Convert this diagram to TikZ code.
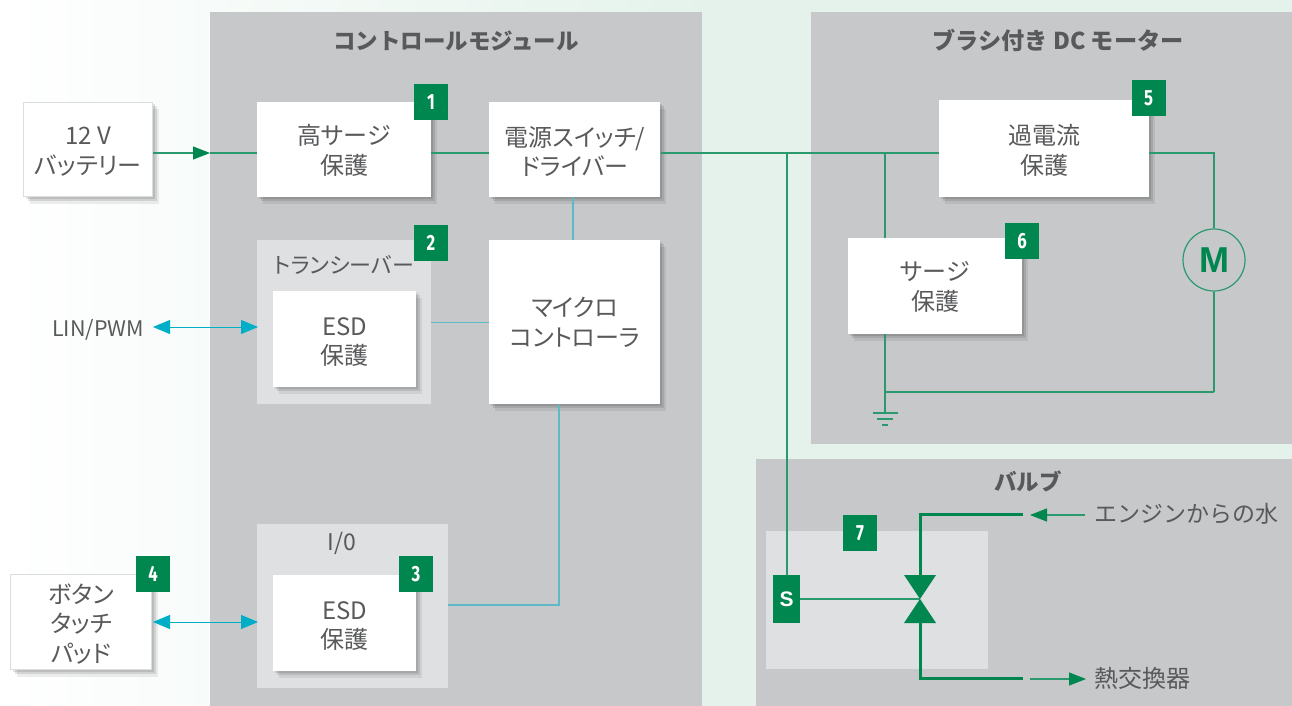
\documentclass[tikz,border=0pt]{standalone}
\usepackage{fontspec}
\setmainfont{Noto Sans CJK JP}
\newfontfamily\kanafont[RawFeature=+palt]{Noto Sans CJK JP}
\newfontfamily\badgefont[FakeStretch=0.76]{Fira Sans}
\newfontfamily\signfont{Liberation Sans}
\usetikzlibrary{positioning, shadows, arrows.meta}

\definecolor{panelgray}{HTML}{C7C8CA}
\definecolor{lightgray}{HTML}{DFE0E2}
\definecolor{textgray}{HTML}{58595B}
\definecolor{edgegray}{HTML}{DCDDDD}
\definecolor{paleback}{HTML}{E4F2EB}
\definecolor{badgegreen}{HTML}{00864F}
\definecolor{linegreen}{HTML}{2A9A6E}
\definecolor{linkteal}{HTML}{5DB8C8}
\definecolor{tipteal}{HTML}{00AEC7}

\newcommand{\lowerline}[2]{\raisebox{-#1pt}[\height][\depth]{#2}}

\tikzset{
  panel/.style={fill=panelgray, anchor=north west, inner sep=0pt},
  group/.style={fill=lightgray, anchor=north west, inner sep=0pt},
  box/.style={fill=white, inner sep=0pt, align=center, text=textgray,
    font=\kanafont\fontsize{24}{29.5}\selectfont,
    drop shadow={shadow xshift=2pt, shadow yshift=-2pt, opacity=.10, fill=black},
    drop shadow={shadow xshift=4pt, shadow yshift=-4pt, opacity=.10, fill=black},
    drop shadow={shadow xshift=6pt, shadow yshift=-7pt, opacity=.07, fill=black}},
  outbox/.style={box, draw=edgegray, line width=1pt},
  badge/.style={fill=badgegreen, text=white, inner sep=0pt, minimum width=34pt,
    minimum height=36pt, font=\badgefont\bfseries\fontsize{22}{22}\selectfont},
  title/.style={text=textgray, inner sep=0pt, font=\bfseries\fontsize{22.5}{26}\selectfont},
  label/.style={text=textgray, inner sep=0pt, font=\fontsize{23}{28}\selectfont},
  power/.style={draw=linegreen, line width=1.2pt},
  signal/.style={draw=linkteal, line width=1.2pt},
  pipe/.style={draw=badgegreen, line width=3pt},
  flow/.style={draw=linegreen, line width=1.2pt, -{Triangle[length=17pt,width=13pt,color=badgegreen]}},
  bus/.style={draw=tipteal, line width=1pt, {Triangle[length=17pt,width=14pt]}-{Triangle[length=17pt,width=14pt]}}
}

\begin{document}
\begin{tikzpicture}[x=1pt,y=-1pt]
    \useasboundingbox (0,0) rectangle (1292,706);
    \shade[left color=white, right color=paleback] (0,0) rectangle (720,706);
    \fill[paleback] (720,0) rectangle (1292,706);

    % panels
    \node[panel, minimum width=492pt, minimum height=694pt] (module) at (210,12) {};
    \node[panel, minimum width=481pt, minimum height=432pt] (motor) at (811,12) {};
    \node[panel, minimum width=536pt, minimum height=247pt] (valvepanel) at (756,459) {};
    \node[group, minimum width=174pt, minimum height=164pt] (trans) at (257,240) {};
    \node[group, minimum width=191pt, minimum height=164pt] (io) at (257,524) {};
    \node[group, minimum width=222pt, minimum height=138pt] (valvegroup) at (766,531) {};

    \node[title] (moduletitle) at (456,41) {コントロールモジュール};
    \node[title, font=\bfseries\fontsize{23.2}{26}\selectfont] (motortitle) at (1058,40) {ブラシ付き DC モーター};
    \node[title] (valvetitle) at (1028,481) {バルブ};
    \node[label, font=\kanafont\fontsize{22}{28}\selectfont] (translabel) at (344,265) {トランシーバー};
    \node[label] (iolabel) at (342,543) {I/0};

    % boxes
    \node[outbox, minimum width=129pt, minimum height=94pt] (batt) at (88,149.5) {\lowerline{2}{12 V}\\\lowerline{2}{バッテリー}};
    \node[box, minimum width=174pt, minimum height=95pt] (high) at (344,149.5) {\lowerline{1}{高サージ}\\\lowerline{1}{保護}};
    \node[box, minimum width=171pt, minimum height=95pt, right=58pt of high] (switch) {\lowerline{2}{電源スイッチ/}\\\lowerline{2}{ドライバー}};
    \node[box, minimum width=171pt, minimum height=164pt, below=43pt of switch] (mcu) {マイクロ\\コントローラ};
    \node[box, minimum width=143pt, minimum height=96pt] (esdtop) at (344.5,339) {\lowerline{3}{ESD}\\\lowerline{3}{保護}};
    \node[box, minimum width=143pt, minimum height=96pt] (esdlow) at (344.5,623) {\lowerline{3}{ESD}\\\lowerline{3}{保護}};
    \node[outbox, minimum width=141pt, minimum height=95pt] (touch) at (81,622) {\lowerline{2}{ボタン}\\\lowerline{2}{タッチ}\\\lowerline{2}{パッド}};
    \node[box, minimum width=210pt, minimum height=97pt] (over) at (1044,148.5) {\lowerline{2}{過電流}\\\lowerline{2}{保護}};
    \node[box, minimum width=174pt, minimum height=96pt] (surge) at (935,286) {\lowerline{1}{サージ}\\\lowerline{1}{保護}};

    % motor and valve parts
    \node[circle, draw=linegreen, line width=1.2pt, minimum size=62pt, inner sep=0pt,
      text=badgegreen, font=\signfont\bfseries\fontsize{36}{36}\selectfont] (mot) at (1214,260) {M};
    \node[fill=badgegreen, text=white, inner sep=0pt, minimum width=27pt, minimum height=48pt,
      font=\signfont\bfseries\fontsize{21}{21}\selectfont] (sense) at (786.5,599) {S};
    \coordinate (valve) at (920,599);

    % junctions
    \coordinate (entry) at (210,153);
    \coordinate (tapS) at (787,153);
    \coordinate (tapG) at (885,153);
    \coordinate (corner) at (1214,153);
    \coordinate (gnd) at (885,413);
    \coordinate (join) at (885,392);
    \coordinate (back) at (1214,392);
    \coordinate (mcubend) at (559,605);
    \coordinate (inA) at (1023,514);
    \coordinate (inB) at (920,514);
    \coordinate (outA) at (920,678);
    \coordinate (outB) at (1023,678);
    \coordinate (inTail) at (1085,515);
    \coordinate (inTip) at (1030,515);
    \coordinate (outTail) at (1030,679);
    \coordinate (outTip) at (1086,679);
    \coordinate (linEnd) at (153,327);
    \coordinate (linIn) at (258,327);
    \coordinate (padEnd) at (153,622);
    \coordinate (padIn) at (258,622);

    \draw[flow] ([yshift=-3.5pt]batt.east) -- (entry);
    \path[power]
    (entry) edge ([yshift=-3.5pt]high.west)
    ([yshift=-3.5pt]high.east) edge ([yshift=-3.5pt]switch.west)
    ([yshift=-3.5pt]switch.east) edge ([yshift=-4.5pt]over.west)
    (tapG) edge (tapG |- surge.north)
    (tapS) edge (tapS |- sense.north)
    (sense.east) edge (valve)
    (join) edge (back)
    (back) edge (mot.south)
    ;
    \draw[power] ([yshift=-4.5pt]over.east) -- (corner) -- (mot.north);
    \draw[power] (gnd |- surge.south) -- (gnd);
    \path[signal]
    (switch.south -| 573,0) edge (mcu.north -| 573,0)
    (trans.east |- 0,322.5) edge (mcu.west |- 0,322.5)
    ;
    \draw[signal] (mcu.south -| mcubend) -- (mcubend) -- (io.east |- mcubend);
    \draw[bus] (linEnd) -- (linIn);
    \draw[bus] (padEnd) -- (padIn);

    % ground
    \draw[power] ([xshift=-12.5pt]gnd) -- ([xshift=12.5pt]gnd);
    \draw[power] ([xshift=-8pt,yshift=-6pt]gnd) -- ([xshift=8pt,yshift=-6pt]gnd);
    \draw[power] ([xshift=-3pt,yshift=-12pt]gnd) -- ([xshift=3pt,yshift=-12pt]gnd);

    % valve
    \draw[pipe] (inA) -- (inB) -- (inB |- 0,577);
    \draw[pipe] (outA |- 0,621) -- (outA) -- (outB);
    \fill[badgegreen] (904,575) -- (936,575) -- (valve) -- cycle;
    \fill[badgegreen] (904,623) -- (936,623) -- (valve) -- cycle;
    \draw[flow] (inTail) -- (inTip);
    \draw[flow] (outTail) -- (outTip);

    \node[label, anchor=west] (water) at (1094,514) {エンジンからの水};
    \node[label, anchor=west, font=\fontsize{24}{28}\selectfont] (heater) at (1094,678) {熱交換器};
    \node[label, font=\fontsize{21.5}{28}\selectfont] (lin) at (98,330) {LIN/PWM};

    % badges
    \node[badge] (b1) at (431,102) {1};
    \node[badge] (b2) at (431,243) {2};
    \node[badge] (b3) at (416,574) {3};
    \node[badge] (b4) at (153,574) {4};
    \node[badge] (b5) at (1148.5,98) {5};
    \node[badge] (b6) at (1022,241) {6};
    \node[badge] (b7) at (860,533) {7};
\end{tikzpicture}
\end{document}
